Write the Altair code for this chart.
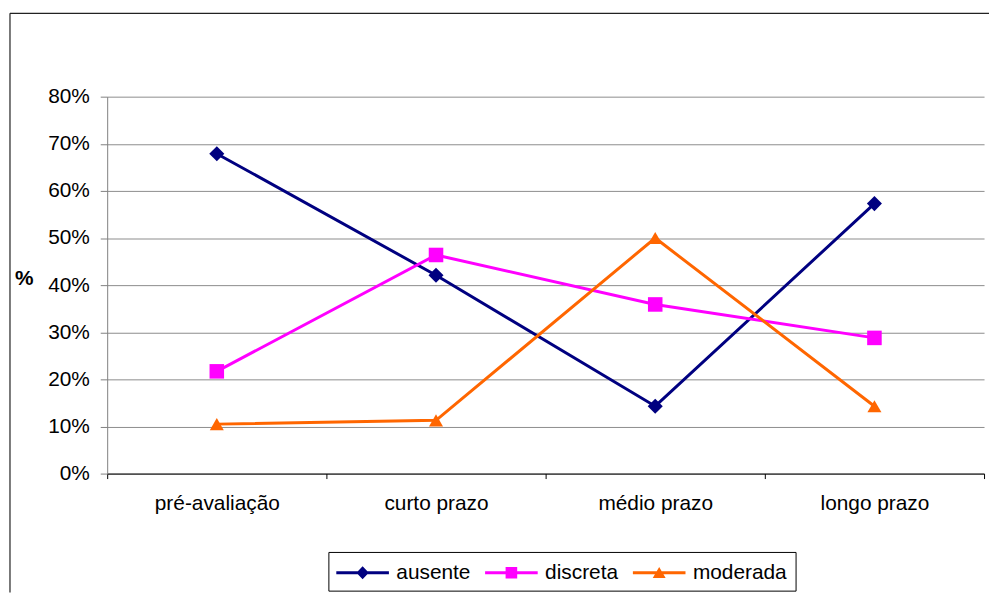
import altair as alt
import pandas as pd

categories = ["pré-avaliação", "curto prazo", "médio prazo", "longo prazo"]
series_names = ["ausente", "discreta", "moderada"]
ausente = [0.679, 0.421, 0.143, 0.573]
discreta = [0.217, 0.464, 0.359, 0.288]
moderada = [0.105, 0.113, 0.500, 0.143]
y_ticks = [0.0, 0.1, 0.2, 0.3, 0.4, 0.5, 0.6, 0.7, 0.8]

colors = ["#000080", "#FF00FF", "#FF6600"]
marker_shapes = ["diamond", "square", "triangle-up"]
# legend symbols: a line with the marker in the middle (unit = 13 px)
legend_shapes = [
    "M-2.04,-0.115H2.04V0.115H-2.04Z M0,-0.5L0.48,0L0,0.5L-0.48,0Z",
    "M-2.04,-0.115H2.04V0.115H-2.04Z M-0.45,-0.45H0.45V0.45H-0.45Z",
    "M-2.04,-0.115H2.04V0.115H-2.04Z M0,-0.45L0.5,0.4H-0.5Z",
]

rows = []
for name, vals in zip(series_names, [ausente, discreta, moderada]):
    for c, v in zip(categories, vals):
        rows.append({"periodo": c, "serie": name, "valor": v})
df = pd.DataFrame(rows)

FONT = "Liberation Sans"
FS = 21

x_enc = alt.X(
    "periodo:N",
    sort=categories,
    scale=alt.Scale(type="band", paddingInner=0, paddingOuter=0),
    axis=alt.Axis(
        title=None, labelAngle=0, tickBand="extent", ticks=True, tickSize=5,
        labelPadding=14, domainColor="black", tickColor="black",
        labelFontSize=FS, labelColor="black", grid=False,
    ),
)
y_enc = alt.Y(
    "valor:Q",
    scale=alt.Scale(domain=[0, 0.8], nice=False),
    axis=alt.Axis(
        values=y_ticks, format=".0%", title="%", titleAngle=0, titleX=-84,
        titleY=183, titleFontWeight="bold", titleFontSize=FS, titleAlign="center",
        titleBaseline="middle", titleColor="black", grid=True, gridColor="#8c8c8c",
        tickSize=7, labelPadding=11, domainColor="#808080", tickColor="#808080",
        labelFontSize=FS, labelColor="black",
    ),
)

color_scale = alt.Scale(domain=series_names, range=colors)

line = alt.Chart(df).mark_line(strokeWidth=3).encode(
    x=x_enc, y=y_enc,
    color=alt.Color("serie:N", scale=color_scale, legend=None),
)

pts = alt.Chart(df).mark_point(filled=True, opacity=1).encode(
    x=x_enc, y=y_enc,
    color=alt.Color("serie:N", scale=color_scale, legend=None),
    shape=alt.Shape("serie:N", scale=alt.Scale(domain=series_names, range=marker_shapes), legend=None),
    size=alt.Size("serie:N", scale=alt.Scale(domain=series_names, range=[230, 200, 180]), legend=None),
)

leg_def = alt.Legend(
    title=None, orient="none", legendX=223, legendY=459, direction="horizontal",
    strokeColor="black", padding=8, symbolSize=676, symbolStrokeWidth=0,
    symbolOffset=13.5, labelOffset=21,
    labelFontSize=FS, labelColor="black", columnPadding=13,
    labelFont=FONT,
)

leg = alt.Chart(df).transform_filter("datum.valor < -1").mark_point(filled=True, opacity=1).encode(
    x=x_enc, y=y_enc,
    color=alt.Color("serie:N", scale=color_scale, legend=leg_def),
    shape=alt.Shape("serie:N", scale=alt.Scale(domain=series_names, range=legend_shapes), legend=leg_def),
)

frame_top = alt.Chart(alt.Data(values=[{}])).mark_rule(color="#222222", strokeWidth=1.2).encode(
    x=alt.value(-98), x2=alt.value(890), y=alt.value(-84)
)
frame_left = alt.Chart(alt.Data(values=[{}])).mark_rule(color="#222222", strokeWidth=1.2).encode(
    x=alt.value(-98), y=alt.value(-84), y2=alt.value(500)
)

chart = (
    alt.layer(line, pts, leg, frame_top, frame_left)
    .resolve_scale(color="independent", shape="independent", size="independent")
    .properties(
        width=884, height=380,
        autosize=alt.AutoSizeParams(type="none"),
        padding={"left": 100, "top": 87, "right": 5, "bottom": 119},
    )
    .configure(font=FONT)
    .configure_axis(labelFont=FONT, titleFont=FONT)
    .configure_legend(labelFont=FONT)
    .configure_view(stroke=None)
)

chart.save("out.html", embed_options={"renderer": "svg", "actions": False})
